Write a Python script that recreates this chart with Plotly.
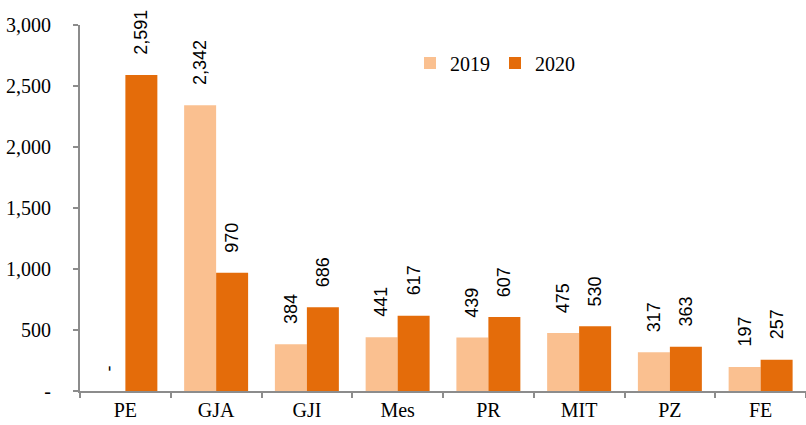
import plotly.graph_objects as go

categories = ["PE", "GJA", "GJI", "Mes", "PR", "MIT", "PZ", "FE"]
values_2019 = [0, 2342, 384, 441, 439, 475, 317, 197]
values_2020 = [2591, 970, 686, 617, 607, 530, 363, 257]
y_tickvals = [0, 500, 1000, 1500, 2000, 2500, 3000]
y_ticktext = ["-", "500", "1,000", "1,500", "2,000", "2,500", "3,000"]

C2019 = "#FAC090"
C2020 = "#E46C0A"
AXIS = "#8C8C8C"
SERIF = "Liberation Serif"
SANS = "Liberation Sans"

W, H = 806, 425
ML, MR, MT, MB = 80, 0, 25, 34
BARGAP = 0.295


def fmt(v):
    return "-" if v == 0 else f"{v:,}"


fig = go.Figure()
fig.add_trace(go.Bar(name="2019", x=categories, y=values_2019, marker_color=C2019,
                     marker_line_width=0))
fig.add_trace(go.Bar(name="2020", x=categories, y=values_2020, marker_color=C2020,
                     marker_line_width=0))

cat_px = (W - ML - MR) / len(categories)
half_bar = cat_px * (1 - BARGAP) / 4

annotations = []
for vals, sign in ((values_2019, -1), (values_2020, 1)):
    for c, v in zip(categories, vals):
        annotations.append(dict(
            x=c, y=v, xref="x", yref="y", text=fmt(v), showarrow=False,
            textangle=-90, xanchor="center", yanchor="bottom",
            xshift=sign * half_bar, yshift=18,
            font=dict(family=SANS, size=18, color="#000000"),
        ))

fig.update_layout(
    width=W, height=H,
    margin=dict(l=ML, r=MR, t=MT, b=MB, autoexpand=False),
    paper_bgcolor="white", plot_bgcolor="white",
    barmode="group", bargap=BARGAP, bargroupgap=0,
    font=dict(family=SERIF, size=20, color="#000000"),
    showlegend=True,
    legend=dict(orientation="h", x=(410 - ML) / (W - ML - MR), xanchor="left",
                y=1 - (63 - MT) / (H - MT - MB), yanchor="middle",
                font=dict(family=SERIF, size=20), bgcolor="rgba(0,0,0,0)",
                traceorder="normal"),
    annotations=annotations,
)
fig.update_xaxes(
    automargin=False,
    showline=True, linecolor=AXIS, linewidth=2,
    ticks="outside", tickson="boundaries", ticklen=5, tickcolor=AXIS, tickwidth=2,
    showgrid=False, tickfont=dict(family=SERIF, size=20),
)
fig.update_yaxes(
    automargin=False,
    range=[0, 3000], tickvals=y_tickvals, ticktext=y_ticktext,
    showline=True, linecolor=AXIS, linewidth=2,
    ticks="outside", ticklen=5, tickcolor=AXIS, tickwidth=2,
    showgrid=False, zeroline=False, ticklabelstandoff=18,
    tickfont=dict(family=SERIF, size=20),
)

fig.write_html("out.html", config={"displayModeBar": False},
               post_script="document.body.style.margin='0';")
